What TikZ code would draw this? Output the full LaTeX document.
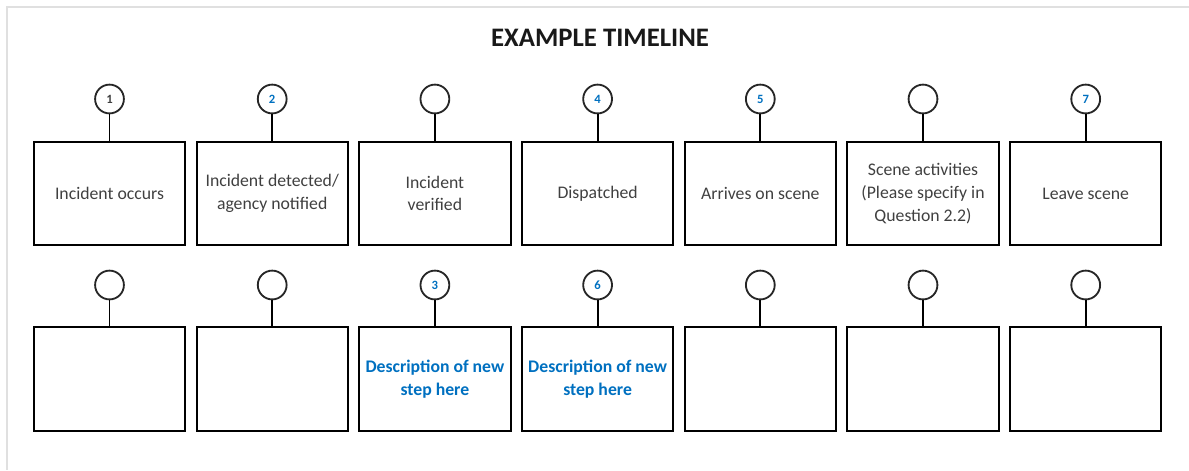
\documentclass[tikz,border=0pt]{standalone}
\usepackage{fontspec}
\setmainfont{Carlito}
\usetikzlibrary{positioning}
\definecolor{stepblue}{RGB}{0,112,192}
\definecolor{steptext}{RGB}{64,64,64}

\begin{document}
\begin{tikzpicture}[
  x=0.025cm, y=-0.025cm,
  stepbox/.style={draw=black, line width=1.4pt, minimum width=3.78cm, minimum height=2.58cm,
    inner sep=1pt, align=center, text=steptext, font=\fontsize{12.6}{16.2}\selectfont},
  plain/.style={},
  newstep/.style={text=stepblue, font=\fontsize{12.6}{16.2}\selectfont\bfseries},
  marker/.style={circle, draw=black!85, line width=1.3pt, minimum size=0.72cm, inner sep=0pt,
    text=stepblue, font=\fontsize{9}{10}\selectfont\bfseries},
  stem/.style={line width=1.4pt, draw=black},
  frame/.style={draw=black!12, line width=1pt}
]

\useasboundingbox (0,0) rectangle (1189,470);

% Page frame, top and left only.
\draw[frame] (7,470) -- (7,7) -- (1189,7);

\node[font=\fontsize{19}{22}\selectfont\bfseries, text=black!90] (title) at (600,38) {EXAMPLE TIMELINE};

% Upper row: the given steps.
\foreach \i/\txt/\num in {1/{Incident occurs}/{\textcolor{steptext}{1}},
    2/{Incident detected/\\agency notified}/2,
    3/{Incident\\verified}/{},
    4/{Dispatched}/4,
    5/{Arrives on scene}/5,
    6/{Scene activities\\(Please specify in\\Question 2.2)}/{},
    7/{Leave scene}/7} {
  \node[stepbox] (s\i) at ({109.5+(\i-1)*162.7},193.5) {\txt};
  \node[marker] (c\i) at ({109.5+(\i-1)*162.7},99) {\num};
  \draw[stem] (c\i) -- (s\i);
}

% Lower row: space for new steps.
\foreach \i/\sty/\txt/\num in {1/plain/{}/{}, 2/plain/{}/{},
    3/newstep/{Description of new\\step here}/3,
    4/newstep/{Description of new\\step here}/6,
    5/plain/{}/{}, 6/plain/{}/{}, 7/plain/{}/{}} {
  \node[stepbox, \sty] (t\i) at ({109.5+(\i-1)*162.7},379) {\txt};
  \node[marker] (d\i) at ({109.5+(\i-1)*162.7},285) {\num};
  \draw[stem] (d\i) -- (t\i);
}

\end{tikzpicture}
\end{document}
